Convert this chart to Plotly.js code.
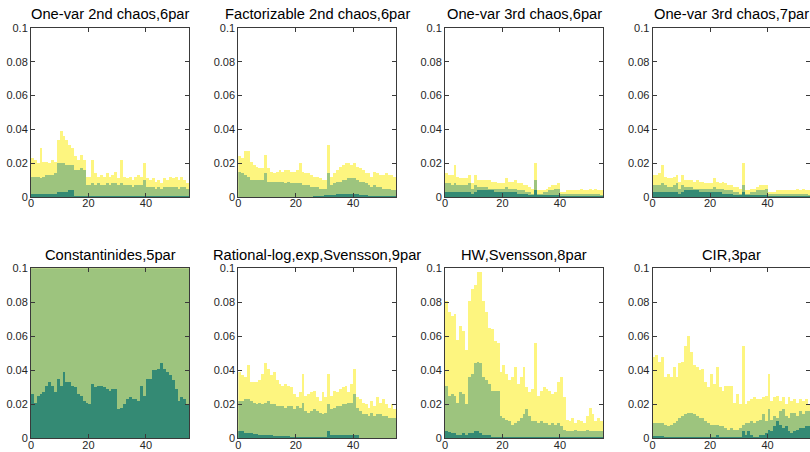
<!DOCTYPE html>
<html>
<head>
<meta charset="utf-8">
<script src="https://cdn.plot.ly/plotly-3.0.1.min.js"></script>
<style>html,body{margin:0;padding:0;background:#fff;}#chart{width:810px;height:452px;}</style>
</head>
<body>
<div id="chart"></div>
<script>
// ---- data: 55 periods per panel, upper level of each coloured band ----
const titles = ["One-var 2nd chaos,6par", "Factorizable 2nd chaos,6par", "One-var 3rd chaos,6par", "One-var 3rd chaos,7par",
                "Constantinides,5par", "Rational-log,exp,Svensson,9par", "HW,Svensson,8par", "CIR,3par"];
const xTickVals = [0, 20, 40];
const yTickVals = [0, 0.02, 0.04, 0.06, 0.08, 0.1];
const yTickText = ["0", "0.02", "0.04", "0.06", "0.08", "0.1"];

const yellow1 = [0.023,0.022,0.020,0.029,0.021,0.021,0.020,0.022,0.021,0.034,0.039,0.036,0.034,0.031,0.029,0.024,0.022,0.025,0.022,0.012,0.012,0.022,0.014,0.012,0.013,0.012,0.014,0.012,0.013,0.015,0.011,0.022,0.012,0.011,0.012,0.010,0.012,0.013,0.012,0.020,0.011,0.010,0.011,0.009,0.010,0.008,0.011,0.010,0.012,0.011,0.012,0.010,0.012,0.010,0.008];
const green1  = [0.012,0.012,0.012,0.011,0.012,0.013,0.013,0.013,0.014,0.020,0.020,0.020,0.019,0.019,0.019,0.016,0.016,0.017,0.016,0.007,0.007,0.008,0.007,0.008,0.007,0.007,0.008,0.007,0.008,0.008,0.007,0.008,0.007,0.007,0.007,0.006,0.007,0.007,0.007,0.010,0.006,0.006,0.006,0.005,0.006,0.005,0.006,0.006,0.006,0.006,0.006,0.005,0.006,0.006,0.005];
const dark1   = [0.002,0.002,0.002,0.002,0.002,0.002,0.002,0.002,0.002,0.003,0.003,0.003,0.003,0.004,0.004,0.0004,0.0004,0.0004,0.0004,0.0003,0.0003,0.0003,0.0003,0.0003,0.0003,0.0003,0.0003,0.0003,0.0003,0.0003,0.0003,0.0005,0.0003,0.0003,0.0003,0.0003,0.0003,0.0003,0.0003,0.0003,0.0003,0.0003,0.0003,0.0003,0.0003,0.0003,0.0003,0.0003,0.0003,0.0003,0.0003,0.0003,0.0003,0.0003,0.0003];

const yellow2 = [0.024,0.023,0.027,0.027,0.021,0.019,0.018,0.017,0.017,0.025,0.017,0.015,0.014,0.015,0.016,0.015,0.016,0.016,0.015,0.015,0.016,0.020,0.015,0.014,0.014,0.013,0.012,0.012,0.011,0.010,0.010,0.031,0.012,0.014,0.016,0.018,0.019,0.020,0.020,0.019,0.020,0.018,0.017,0.016,0.014,0.014,0.012,0.015,0.014,0.013,0.013,0.014,0.013,0.013,0.012];
const green2  = [0.015,0.014,0.013,0.012,0.010,0.010,0.010,0.010,0.010,0.014,0.009,0.009,0.009,0.009,0.009,0.009,0.008,0.009,0.008,0.008,0.008,0.008,0.007,0.007,0.007,0.006,0.006,0.006,0.005,0.005,0.005,0.014,0.007,0.008,0.009,0.009,0.010,0.010,0.011,0.011,0.011,0.010,0.009,0.009,0.008,0.007,0.006,0.007,0.006,0.006,0.005,0.005,0.005,0.004,0.004];
const dark2   = [0.0002,0.0002,0.0002,0.0002,0.0002,0.0002,0.0002,0.0002,0.0002,0.0002,0.0002,0.0002,0.0002,0.0002,0.0002,0.0002,0.0002,0.0002,0.0002,0.0002,0.0002,0.0002,0.0002,0.0002,0.0002,0.0002,0.0005,0.0005,0.0005,0.0008,0.001,0.001,0.0012,0.0012,0.0015,0.0015,0.0015,0.0015,0.0015,0.0015,0.0015,0.0015,0.0012,0.001,0.001,0.0008,0.0005,0.0005,0.0005,0.0005,0.0005,0.0005,0.0005,0.0005,0.0005];

const yellow3 = [0.014,0.013,0.013,0.019,0.012,0.011,0.011,0.011,0.013,0.008,0.013,0.010,0.010,0.010,0.010,0.010,0.009,0.009,0.008,0.008,0.008,0.011,0.009,0.009,0.010,0.008,0.008,0.007,0.007,0.006,0.005,0.020,0.004,0.004,0.004,0.005,0.006,0.007,0.007,0.008,0.003,0.003,0.004,0.004,0.004,0.004,0.004,0.005,0.004,0.004,0.005,0.004,0.005,0.004,0.004];
const green3  = [0.008,0.008,0.007,0.008,0.007,0.007,0.007,0.007,0.008,0.005,0.007,0.006,0.006,0.006,0.006,0.005,0.005,0.005,0.005,0.005,0.005,0.006,0.005,0.005,0.005,0.004,0.004,0.004,0.003,0.003,0.002,0.010,0.002,0.002,0.003,0.003,0.004,0.004,0.005,0.005,0.002,0.002,0.002,0.002,0.002,0.002,0.002,0.002,0.002,0.002,0.002,0.002,0.002,0.002,0.001];
const dark3   = [0.003,0.003,0.003,0.003,0.003,0.003,0.003,0.003,0.003,0.002,0.003,0.004,0.004,0.004,0.004,0.004,0.004,0.003,0.003,0.003,0.003,0.003,0.003,0.003,0.003,0.002,0.002,0.002,0.002,0.001,0.001,0.004,0.001,0.001,0.001,0.001,0.001,0.001,0.001,0.001,0.0005,0.0005,0.0005,0.0005,0.0005,0.0005,0.0005,0.0005,0.0005,0.0005,0.0005,0.0005,0.0005,0.0005,0.0005];

const yellow4 = [0.013,0.013,0.014,0.019,0.012,0.011,0.011,0.012,0.013,0.009,0.013,0.010,0.010,0.010,0.009,0.010,0.009,0.009,0.008,0.008,0.008,0.011,0.009,0.008,0.009,0.008,0.007,0.007,0.006,0.006,0.005,0.020,0.004,0.004,0.005,0.005,0.006,0.007,0.007,0.007,0.003,0.003,0.003,0.004,0.004,0.004,0.004,0.004,0.004,0.004,0.005,0.004,0.005,0.004,0.004];
const green4  = [0.007,0.007,0.007,0.008,0.007,0.006,0.006,0.007,0.008,0.005,0.007,0.006,0.006,0.006,0.005,0.005,0.005,0.005,0.005,0.005,0.005,0.006,0.005,0.005,0.005,0.004,0.004,0.004,0.003,0.003,0.002,0.007,0.002,0.002,0.003,0.003,0.004,0.004,0.004,0.005,0.002,0.002,0.002,0.002,0.002,0.002,0.002,0.002,0.002,0.002,0.002,0.002,0.002,0.002,0.001];
const dark4   = [0.003,0.003,0.003,0.003,0.003,0.003,0.003,0.003,0.003,0.002,0.003,0.004,0.004,0.004,0.004,0.004,0.003,0.003,0.003,0.003,0.003,0.003,0.003,0.003,0.002,0.002,0.002,0.002,0.001,0.001,0.001,0.003,0.001,0.001,0.001,0.001,0.001,0.001,0.001,0.001,0.0005,0.0005,0.0005,0.0005,0.0005,0.0005,0.0005,0.0005,0.0005,0.0005,0.0005,0.0005,0.0005,0.0005,0.0005];

const yellow5 = [0.1,0.1,0.1,0.1,0.1,0.1,0.1,0.1,0.1,0.1,0.1,0.1,0.1,0.1,0.1,0.1,0.1,0.1,0.1,0.1,0.1,0.1,0.1,0.1,0.1,0.1,0.1,0.1,0.1,0.1,0.1,0.1,0.1,0.1,0.1,0.1,0.1,0.1,0.1,0.1,0.1,0.1,0.1,0.1,0.1,0.1,0.1,0.1,0.1,0.1,0.1,0.1,0.1,0.1,0.1];
const green5  = [0.1,0.1,0.1,0.1,0.1,0.1,0.1,0.1,0.1,0.1,0.1,0.1,0.1,0.1,0.1,0.1,0.1,0.1,0.1,0.1,0.1,0.1,0.1,0.1,0.1,0.1,0.1,0.1,0.1,0.1,0.1,0.1,0.1,0.1,0.1,0.1,0.1,0.1,0.1,0.1,0.1,0.1,0.1,0.1,0.1,0.1,0.1,0.1,0.1,0.1,0.1,0.1,0.1,0.1,0.1];
const dark5   = [0.026,0.021,0.025,0.026,0.027,0.031,0.033,0.031,0.027,0.035,0.031,0.039,0.033,0.033,0.031,0.030,0.026,0.025,0.022,0.021,0.020,0.032,0.030,0.031,0.031,0.030,0.029,0.028,0.029,0.029,0.017,0.018,0.020,0.023,0.024,0.023,0.023,0.022,0.031,0.025,0.035,0.035,0.040,0.040,0.041,0.044,0.041,0.039,0.037,0.034,0.029,0.022,0.024,0.023,0.020];

const yellow6 = [0.039,0.037,0.036,0.043,0.033,0.033,0.033,0.034,0.038,0.044,0.041,0.037,0.039,0.034,0.032,0.031,0.032,0.031,0.030,0.026,0.024,0.027,0.038,0.025,0.026,0.027,0.028,0.024,0.022,0.027,0.024,0.038,0.025,0.028,0.027,0.029,0.030,0.031,0.027,0.032,0.041,0.024,0.023,0.021,0.020,0.018,0.022,0.019,0.024,0.021,0.023,0.020,0.018,0.020,0.017];
const green6  = [0.022,0.022,0.023,0.023,0.022,0.021,0.020,0.021,0.020,0.021,0.022,0.020,0.020,0.019,0.019,0.019,0.018,0.019,0.019,0.017,0.019,0.018,0.021,0.016,0.015,0.016,0.017,0.016,0.015,0.014,0.015,0.020,0.017,0.018,0.019,0.019,0.020,0.020,0.021,0.021,0.026,0.018,0.016,0.014,0.014,0.013,0.015,0.013,0.014,0.014,0.013,0.013,0.012,0.012,0.012];
const dark6   = [0.004,0.004,0.003,0.003,0.003,0.0025,0.0025,0.002,0.002,0.002,0.002,0.002,0.0015,0.0015,0.0015,0.0015,0.0012,0.0012,0.001,0.001,0.001,0.0008,0.0008,0.0008,0.0008,0.0008,0.0008,0.0008,0.0008,0.0008,0.0008,0.004,0.002,0.002,0.002,0.002,0.002,0.002,0.002,0.002,0.002,0.002,0.0003,0.0003,0.0003,0.0003,0.0003,0.0003,0.0003,0.0003,0.0003,0.0003,0.0003,0.0003,0.0003];

const yellow7 = [0.081,0.074,0.072,0.073,0.058,0.066,0.063,0.052,0.081,0.088,0.090,0.098,0.098,0.081,0.074,0.065,0.064,0.057,0.056,0.039,0.043,0.038,0.034,0.036,0.042,0.032,0.036,0.042,0.030,0.027,0.029,0.056,0.025,0.028,0.030,0.029,0.028,0.026,0.027,0.033,0.036,0.024,0.011,0.010,0.012,0.009,0.011,0.010,0.009,0.013,0.018,0.014,0.010,0.012,0.010];
const green7  = [0.031,0.025,0.026,0.025,0.021,0.027,0.026,0.020,0.036,0.038,0.044,0.045,0.044,0.036,0.034,0.032,0.028,0.028,0.028,0.013,0.012,0.011,0.010,0.008,0.009,0.010,0.012,0.014,0.017,0.013,0.010,0.010,0.009,0.010,0.009,0.009,0.008,0.009,0.008,0.009,0.007,0.005,0.004,0.004,0.004,0.005,0.004,0.004,0.004,0.005,0.004,0.004,0.004,0.004,0.004];
const dark7   = [0.004,0.0035,0.003,0.003,0.002,0.002,0.003,0.002,0.003,0.003,0.004,0.004,0.003,0.002,0.002,0.002,0.001,0.001,0.001,0.001,0.001,0.001,0.001,0.001,0.001,0.001,0.001,0.001,0.001,0.001,0.001,0.001,0.0005,0.0005,0.0005,0.0005,0.0005,0.0005,0.0005,0.0005,0.0005,0.0005,0.0005,0.0005,0.0005,0.0005,0.0005,0.0005,0.0005,0.0005,0.0005,0.0005,0.0005,0.0005,0.0005];

const yellow8 = [0.048,0.049,0.045,0.048,0.036,0.038,0.036,0.042,0.036,0.044,0.045,0.054,0.060,0.051,0.043,0.042,0.040,0.041,0.033,0.030,0.038,0.032,0.042,0.030,0.028,0.031,0.031,0.031,0.021,0.026,0.020,0.054,0.020,0.022,0.023,0.024,0.023,0.023,0.024,0.025,0.038,0.022,0.024,0.025,0.022,0.024,0.020,0.024,0.022,0.023,0.021,0.023,0.022,0.023,0.020];
const green8  = [0.009,0.009,0.009,0.009,0.008,0.007,0.008,0.009,0.010,0.012,0.013,0.014,0.015,0.015,0.014,0.013,0.012,0.012,0.010,0.009,0.008,0.008,0.008,0.007,0.007,0.006,0.005,0.006,0.005,0.005,0.006,0.008,0.009,0.009,0.010,0.009,0.010,0.011,0.014,0.010,0.017,0.011,0.013,0.012,0.016,0.017,0.013,0.012,0.015,0.015,0.013,0.016,0.014,0.016,0.016];
const dark8   = [0.0015,0.0015,0.0015,0.0015,0.0005,0.0005,0.0005,0.0005,0.0005,0.0005,0.0005,0.0005,0.0005,0.0005,0.0005,0.0005,0.0005,0.0005,0.0005,0.0005,0.0005,0.0005,0.002,0.001,0.001,0.001,0.001,0.001,0.001,0.001,0.001,0.004,0.002,0.004,0.002,0.001,0.001,0.002,0.002,0.003,0.005,0.004,0.007,0.010,0.008,0.006,0.007,0.004,0.003,0.004,0.005,0.006,0.006,0.007,0.007];

const yellowSets = [yellow1, yellow2, yellow3, yellow4, yellow5, yellow6, yellow7, yellow8];
const greenSets  = [green1, green2, green3, green4, green5, green6, green7, green8];
const darkSets   = [dark1, dark2, dark3, dark4, dark5, dark6, dark7, dark8];

// ---- styling ----
const colYellow = '#FDF57F', colGreen = '#9DC47E', colDark = '#348A74';
const W = 810, H = 452;
const colLeft = [31, 238.3, 445, 652.6];
const axW = 158, nBars = 55;
const rowTop = [28, 268.3], rowBot = [197, 438.3];
const tickFont = {family: 'Liberation Sans, Arial, sans-serif', size: 11, color: '#262626'};

const traces = [];
const layout = {
  width: W, height: H, margin: {l: 0, r: 0, t: 0, b: 0},
  paper_bgcolor: '#ffffff', plot_bgcolor: '#ffffff',
  barmode: 'overlay', bargap: 0, bargroupgap: 0, showlegend: false,
  annotations: []
};

for (let p = 0; p < 8; p++) {
  const r = Math.floor(p / 4), c = p % 4;
  const n = p + 1;
  const xa = 'x' + (n === 1 ? '' : n), ya = 'y' + (n === 1 ? '' : n);
  const xs = yellowSets[p].map((_, i) => i + 0.5);
  [[yellowSets[p], colYellow], [greenSets[p], colGreen], [darkSets[p], colDark]].forEach(([vals, col]) => {
    traces.push({type: 'bar', x: xs, y: vals, width: 1, xaxis: xa, yaxis: ya,
      marker: {color: col, line: {width: 0}}, hoverinfo: 'skip'});
  });
  const left = colLeft[c];
  let right = left + axW, xmax = nBars;
  if (right > W) { xmax = nBars * (W - left) / axW; right = W; }
  const common = {showgrid: false, zeroline: false, showline: true, linecolor: '#3a3a3a', linewidth: 1,
    mirror: 'ticks', ticks: 'inside', ticklen: 4, tickwidth: 1, tickcolor: '#3a3a3a', tickfont: tickFont, fixedrange: true};
  layout['xaxis' + (n === 1 ? '' : n)] = Object.assign({}, common, {
    domain: [left / W, right / W], range: [0, xmax], anchor: ya,
    tickvals: xTickVals, ticktext: xTickVals.map(String), ticklabelstandoff: -4});
  layout['yaxis' + (n === 1 ? '' : n)] = Object.assign({}, common, {
    domain: [1 - rowBot[r] / H, 1 - rowTop[r] / H], range: [0, 0.1], anchor: xa,
    tickvals: yTickVals, ticktext: yTickText, ticklabelstandoff: 0});
  layout.annotations.push({text: titles[p], xref: 'paper', yref: 'paper',
    x: (left + axW / 2) / W, y: 1 - (r === 0 ? 13.5 : 255) / H, xanchor: 'center', yanchor: 'middle',
    showarrow: false, font: {family: 'Liberation Sans, Arial, sans-serif', size: 14.7, color: '#000'}});
}

Plotly.newPlot('chart', traces, layout, {staticPlot: true, displayModeBar: false});
</script>
</body>
</html>
